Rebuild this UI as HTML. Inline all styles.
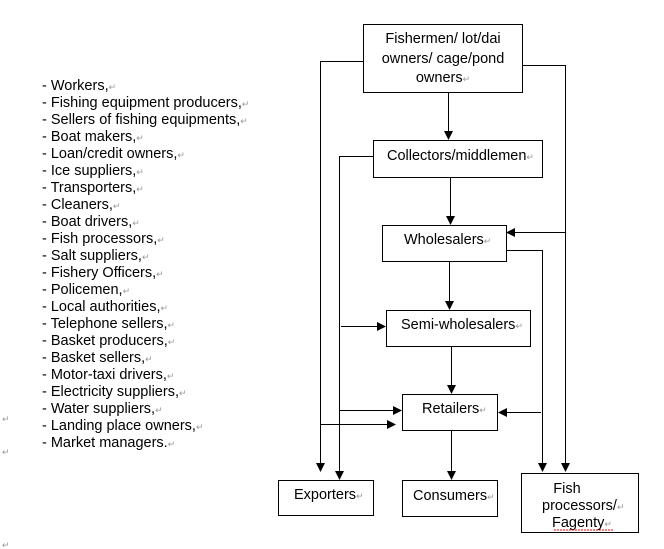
<!DOCTYPE html>
<html><head><meta charset="utf-8"><style>
html,body{margin:0;padding:0;background:#fff;}
svg{display:block;font-family:"Liberation Sans",Arial,sans-serif;}
text{font-size:14.5px;fill:#000;}
.m{fill:#999;font-size:9px;}
</style></head><body>
<svg width="664" height="549" viewBox="0 0 664 549" xmlns="http://www.w3.org/2000/svg">
<defs><marker id="a" markerWidth="9" markerHeight="9" refX="8" refY="4.5" orient="auto" markerUnits="userSpaceOnUse"><path d="M0,0 L9,4.5 L0,9 z" fill="#000"/></marker></defs>
<g>
<text x="42" y="90">- Workers,<tspan class="m">↵</tspan></text>
<text x="42" y="107">- Fishing equipment producers,<tspan class="m">↵</tspan></text>
<text x="42" y="124">- Sellers of fishing equipments,<tspan class="m">↵</tspan></text>
<text x="42" y="141">- Boat makers,<tspan class="m">↵</tspan></text>
<text x="42" y="158">- Loan/credit owners,<tspan class="m">↵</tspan></text>
<text x="42" y="175">- Ice suppliers,<tspan class="m">↵</tspan></text>
<text x="42" y="192">- Transporters,<tspan class="m">↵</tspan></text>
<text x="42" y="209">- Cleaners,<tspan class="m">↵</tspan></text>
<text x="42" y="226">- Boat drivers,<tspan class="m">↵</tspan></text>
<text x="42" y="243">- Fish processors,<tspan class="m">↵</tspan></text>
<text x="42" y="260">- Salt suppliers,<tspan class="m">↵</tspan></text>
<text x="42" y="277">- Fishery Officers,<tspan class="m">↵</tspan></text>
<text x="42" y="294">- Policemen,<tspan class="m">↵</tspan></text>
<text x="42" y="311">- Local authorities,<tspan class="m">↵</tspan></text>
<text x="42" y="328">- Telephone sellers,<tspan class="m">↵</tspan></text>
<text x="42" y="345">- Basket producers,<tspan class="m">↵</tspan></text>
<text x="42" y="362">- Basket sellers,<tspan class="m">↵</tspan></text>
<text x="42" y="379">- Motor-taxi drivers,<tspan class="m">↵</tspan></text>
<text x="42" y="396">- Electricity suppliers,<tspan class="m">↵</tspan></text>
<text x="42" y="413">- Water suppliers,<tspan class="m">↵</tspan></text>
<text x="42" y="430">- Landing place owners,<tspan class="m">↵</tspan></text>
<text x="42" y="447">- Market managers.<tspan class="m">↵</tspan></text>
</g>
<text class="m" x="2" y="422">↵</text>
<text class="m" x="2" y="455">↵</text>
<text class="m" x="2" y="548">↵</text>
<g fill="#fff" stroke="#000" stroke-width="1">
<rect x="363.5" y="24.5" width="159" height="68"/>
<rect x="373.5" y="140.5" width="169" height="37"/>
<rect x="382.5" y="225.5" width="124" height="36"/>
<rect x="386.5" y="310.5" width="144" height="36"/>
<rect x="402.5" y="394.5" width="95" height="36"/>
<rect x="278.5" y="480.5" width="95" height="35"/>
<rect x="402.5" y="480.5" width="95" height="36"/>
<rect x="521.5" y="473.5" width="117" height="59"/>
</g>
<g fill="none" stroke="#000" stroke-width="1">
<polyline points="363,61.5 320.5,61.5 320.5,471" marker-end="url(#a)"/>
<polyline points="522,65.5 565.5,65.5 565.5,471" marker-end="url(#a)"/>
<line x1="448.5" y1="92" x2="448.5" y2="139" marker-end="url(#a)"/>
<polyline points="373,156.5 339.5,156.5 339.5,479" marker-end="url(#a)"/>
<line x1="450.5" y1="178" x2="450.5" y2="224" marker-end="url(#a)"/>
<line x1="565" y1="232.5" x2="507" y2="232.5" marker-end="url(#a)"/>
<polyline points="507,250.5 542.5,250.5 542.5,471" marker-end="url(#a)"/>
<line x1="449.5" y1="262" x2="449.5" y2="309" marker-end="url(#a)"/>
<line x1="341" y1="326.5" x2="385" y2="326.5" marker-end="url(#a)"/>
<line x1="451.5" y1="347" x2="451.5" y2="393" marker-end="url(#a)"/>
<line x1="340" y1="410.5" x2="401" y2="410.5" marker-end="url(#a)"/>
<line x1="321" y1="424.5" x2="395" y2="424.5" marker-end="url(#a)"/>
<line x1="541" y1="412.5" x2="499" y2="412.5" marker-end="url(#a)"/>
<line x1="451.5" y1="431" x2="451.5" y2="479" marker-end="url(#a)"/>
</g>
<text x="443" y="43" text-anchor="middle">Fishermen/ lot/dai</text>
<text x="443" y="63" text-anchor="middle">owners/ cage/pond</text>
<text x="443" y="82" text-anchor="middle">owners<tspan class="m">↵</tspan></text>
<text x="387" y="160">Collectors/middlemen<tspan class="m">↵</tspan></text>
<text x="404" y="244">Wholesalers<tspan class="m">↵</tspan></text>
<text x="401" y="329">Semi-wholesalers<tspan class="m">↵</tspan></text>
<text x="422" y="413">Retailers<tspan class="m">↵</tspan></text>
<text x="294" y="499">Exporters<tspan class="m">↵</tspan></text>
<text x="413" y="500">Consumers<tspan class="m">↵</tspan></text>
<text x="567" y="493" text-anchor="middle">Fish</text>
<text x="542" y="510">processors/<tspan class="m">↵</tspan></text>
<text x="552" y="527">Fagenty<tspan class="m">↵</tspan></text>
<path d="M554,530 l60,0" stroke="#e00" stroke-dasharray="2,1" fill="none"/>
</svg>
</body></html>
